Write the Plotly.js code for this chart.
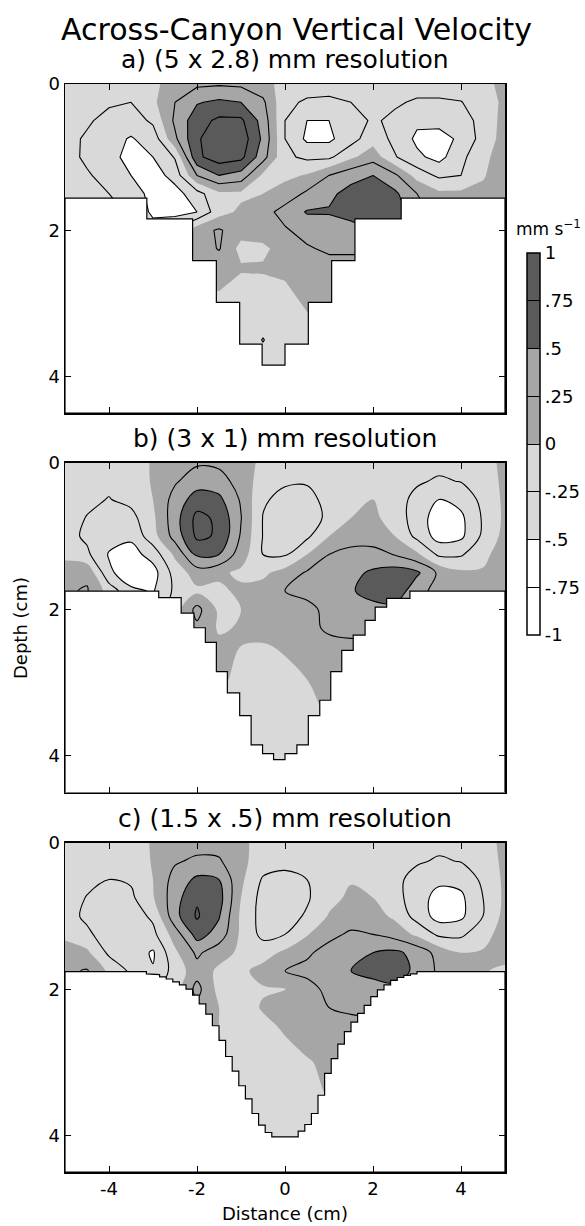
<!DOCTYPE html>
<html><head><meta charset="utf-8">
<script src="https://cdn.plot.ly/plotly-3.0.1.min.js"></script>
<style>body{margin:0;background:#fff}</style>
</head><body><div id="chart" style="width:585px;height:1226px"></div>
<script>
// ---------------- data ----------------
const xNodes = [-5,-4.5,-4,-3.5,-3,-2.5,-2,-1.5,-1,-0.5,0,0.5,1,1.5,2,2.5,3,3.5,4,4.5,5];
const depthNodes = [0,0.25,0.5,0.75,1,1.25,1.5,1.75,2,2.25,2.5,3,3.5,4,4.5];

// vertical velocity (mm/s), rows = depthNodes, cols = xNodes
const velA = [
 [-0.1,-0.1,-0.12,-0.15,-0.05,0.1,0.2,0.22,0.2,0.1,-0.1,-0.15,-0.15,-0.12,-0.1,-0.12,-0.15,-0.15,-0.12,-0.05,0.05],
 [-0.12,-0.15,-0.22,-0.25,-0.05,0.25,0.48,0.55,0.5,0.3,-0.2,-0.28,-0.3,-0.25,-0.18,-0.22,-0.28,-0.28,-0.26,-0.12,0.05],
 [-0.15,-0.22,-0.32,-0.38,-0.2,0.3,0.65,0.8,0.8,0.4,-0.25,-0.5,-0.5,-0.35,-0.22,-0.3,-0.45,-0.42,-0.38,-0.15,0.08],
 [-0.18,-0.28,-0.42,-0.52,-0.4,0.2,0.72,0.9,0.9,0.45,-0.25,-0.55,-0.55,-0.35,-0.1,-0.32,-0.55,-0.6,-0.45,-0.15,0.1],
 [-0.15,-0.3,-0.45,-0.55,-0.5,-0.23,0.7,0.88,0.82,0.35,-0.2,-0.3,-0.3,-0.05,0.15,-0.23,-0.45,-0.58,-0.32,-0.05,0.1],
 [-0.1,-0.22,-0.35,-0.5,-0.62,-0.4,0.25,0.5,0.4,-0.05,-0.05,0.02,0.25,0.42,0.5,0.3,-0.1,-0.3,-0.25,-0.02,0.12],
 [-0.05,-0.15,-0.25,-0.35,-0.6,-0.6,-0.35,-0.05,-0.05,0.0,0.1,0.3,0.45,0.58,0.65,0.55,0.25,0.05,0.05,0.05,0.12],
 [0.0,-0.05,-0.15,-0.3,-0.55,-0.6,-0.5,-0.1,0.05,0.15,0.35,0.52,0.52,0.6,0.65,0.6,0.4,0.1,0.05,0.05,0.1],
 [0.0,-0.05,-0.15,-0.3,-0.4,-0.2,0.15,0.28,0.1,0.12,0.22,0.35,0.38,0.4,0.5,0.5,0.4,0.1,0.05,0.05,0.1],
 [0.0,0.0,-0.1,-0.2,-0.2,0.0,0.1,0.27,-0.08,-0.05,0.1,0.22,0.3,0.3,0.3,0.3,0.3,0.1,0.05,0.05,0.1],
 [0,0,0,0,0,0.05,0.05,0.1,0.02,0.02,0.05,0.15,0.15,0.15,0.15,0.15,0.1,0.1,0.05,0.05,0.05],
 [0,0,0,0,-0.05,-0.05,-0.05,-0.05,-0.1,-0.08,-0.08,0.03,0.05,0.05,0.05,0.05,0.05,0,0,0,0],
 [-0.1,-0.1,-0.1,-0.1,-0.1,-0.1,-0.1,-0.1,-0.1,-0.26,-0.1,-0.1,-0.1,-0.1,-0.1,-0.1,-0.1,-0.1,-0.1,-0.1,-0.1],
 [-0.1,-0.1,-0.1,-0.1,-0.1,-0.1,-0.1,-0.1,-0.1,-0.1,-0.1,-0.1,-0.1,-0.1,-0.1,-0.1,-0.1,-0.1,-0.1,-0.1,-0.1],
 [-0.1,-0.1,-0.1,-0.1,-0.1,-0.1,-0.1,-0.1,-0.1,-0.1,-0.1,-0.1,-0.1,-0.1,-0.1,-0.1,-0.1,-0.1,-0.1,-0.1,-0.1]
];
const velB = [
 [-0.1,-0.12,-0.15,-0.1,0.02,0.15,0.22,0.2,0.1,-0.05,-0.12,-0.12,-0.1,-0.1,-0.1,-0.12,-0.15,-0.18,-0.15,-0.08,0.05],
 [-0.1,-0.15,-0.2,-0.12,0.02,0.22,0.38,0.35,0.15,-0.12,-0.22,-0.22,-0.12,-0.1,-0.1,-0.15,-0.22,-0.28,-0.24,-0.12,0.05],
 [-0.12,-0.2,-0.26,-0.18,0.0,0.35,0.62,0.56,0.22,-0.22,-0.32,-0.35,-0.15,-0.08,0.0,-0.15,-0.32,-0.5,-0.42,-0.18,0.05],
 [-0.15,-0.26,-0.33,-0.33,-0.05,0.4,0.82,0.7,0.26,-0.26,-0.38,-0.36,-0.2,0.0,0.05,-0.1,-0.38,-0.62,-0.55,-0.22,0.05],
 [-0.15,-0.3,-0.4,-0.45,-0.1,0.35,0.8,0.72,0.22,-0.26,-0.35,-0.3,0.0,0.15,0.18,0.0,-0.32,-0.6,-0.55,-0.2,0.08],
 [-0.05,-0.2,-0.52,-0.6,-0.4,0.05,0.55,0.5,0.12,-0.25,-0.28,0.0,0.25,0.32,0.3,0.24,0.05,-0.3,-0.28,-0.05,0.1],
 [0.1,0.2,-0.45,-0.65,-0.6,-0.15,0.12,0.05,-0.05,-0.05,0.1,0.28,0.36,0.42,0.55,0.62,0.55,0.2,0.05,0.02,0.1],
 [0.22,0.27,-0.1,-0.45,-0.52,-0.2,-0.05,-0.05,0.05,0.1,0.25,0.3,0.38,0.47,0.62,0.7,0.3,0.2,0.05,0.05,0.1],
 [0.2,0.2,-0.1,-0.4,-0.45,-0.1,0.33,-0.05,0.0,0.08,0.15,0.2,0.3,0.35,0.4,0.4,0.3,0.15,0.05,0.05,0.1],
 [0.1,0.1,-0.1,-0.3,-0.3,0.0,0.2,-0.03,0.02,0.1,0.12,0.2,0.28,0.32,0.3,0.3,0.25,0.1,0.05,0.05,0.1],
 [0,0,0,0,0,0.05,0.1,0.05,0.0,-0.02,0.03,0.12,0.2,0.2,0.2,0.2,0.1,0.05,0,0,0],
 [0,0,0,0,0,0.05,0.05,0.05,-0.08,-0.12,-0.08,-0.01,0.08,0.1,0.1,0.1,0.05,0,0,0,0],
 [-0.1,-0.1,-0.1,-0.1,-0.1,-0.1,-0.1,-0.1,-0.1,-0.15,-0.12,-0.06,0.0,0.0,0,0,0,0,0,0,0],
 [-0.15,-0.15,-0.15,-0.15,-0.15,-0.15,-0.15,-0.15,-0.15,-0.15,-0.15,-0.1,-0.05,-0.05,0,0,0,0,0,0,0],
 [-0.15,-0.15,-0.15,-0.15,-0.15,-0.15,-0.15,-0.15,-0.15,-0.15,-0.15,-0.1,-0.05,-0.05,0,0,0,0,0,0,0]
];
const velC = [
 [-0.1,-0.12,-0.15,-0.1,0.02,0.12,0.15,0.15,0.03,-0.05,-0.1,-0.12,-0.1,-0.1,-0.1,-0.12,-0.15,-0.18,-0.15,-0.08,0.05],
 [-0.1,-0.15,-0.2,-0.15,0.02,0.22,0.3,0.28,0.06,-0.12,-0.2,-0.15,-0.12,-0.1,-0.1,-0.15,-0.22,-0.28,-0.24,-0.12,0.05],
 [-0.12,-0.2,-0.25,-0.22,0.0,0.35,0.55,0.5,0.05,-0.28,-0.3,-0.25,-0.12,-0.02,-0.05,-0.18,-0.35,-0.45,-0.42,-0.2,0.05],
 [-0.15,-0.26,-0.32,-0.3,-0.02,0.4,0.72,0.6,0.0,-0.35,-0.35,-0.28,-0.08,0.05,0.0,-0.15,-0.4,-0.58,-0.55,-0.25,0.05],
 [-0.15,-0.3,-0.36,-0.38,-0.2,0.42,0.78,0.52,-0.05,-0.35,-0.35,-0.22,0.02,0.15,0.1,-0.05,-0.35,-0.6,-0.55,-0.25,0.08],
 [-0.05,-0.2,-0.38,-0.38,-0.32,0.12,0.6,0.4,-0.05,-0.32,-0.25,-0.02,0.2,0.28,0.25,0.15,-0.05,-0.3,-0.3,-0.08,0.1],
 [0.1,0.05,-0.3,-0.36,-0.53,-0.05,0.3,0.1,-0.05,-0.1,0.05,0.22,0.32,0.42,0.5,0.55,0.42,0.15,0.0,0.02,0.1],
 [0.2,0.27,-0.05,-0.3,-0.48,-0.15,0.15,-0.05,-0.05,0.08,0.25,0.3,0.38,0.5,0.58,0.6,0.45,0.2,0.05,0.02,-0.05],
 [0.2,0.2,0.0,-0.2,-0.3,-0.1,0.33,-0.08,-0.1,-0.02,-0.02,0.18,0.3,0.35,0.4,0.45,0.4,0.2,0.05,0.0,-0.05],
 [0.1,0.1,0,-0.1,-0.1,0.0,0.18,0.0,-0.1,0.02,0.12,0.18,0.25,0.28,0.3,0.3,0.3,0.2,0.05,0,0],
 [0,0,0,0,0,0.05,0.05,0.0,-0.1,-0.05,0.03,0.12,0.15,0.2,0.2,0.2,0.2,0.1,0,0,0],
 [0,0,0,0,0,0,0,0.02,-0.12,-0.12,-0.08,-0.02,0.05,0.08,0.1,0.1,0.05,0,0,0,0],
 [-0.1,-0.1,-0.1,-0.1,-0.1,-0.1,-0.1,-0.1,-0.1,-0.15,-0.15,-0.08,0.0,0.0,0,0,0,0,0,0,0],
 [-0.15,-0.15,-0.15,-0.15,-0.15,-0.15,-0.15,-0.15,-0.15,-0.15,-0.15,-0.1,-0.05,-0.05,0,0,0,0,0,0,0],
 [-0.15,-0.15,-0.15,-0.15,-0.15,-0.15,-0.15,-0.15,-0.15,-0.15,-0.15,-0.1,-0.05,-0.05,0,0,0,0,0,0,0]
];

// canyon bathymetry (column edges in cm, column bottom depths in cm, shelf depth)
const canyonEdgesA = [-3.14,-2.10,-1.56,-1.03,-0.52,0,0.53,1.06,1.59,2.64];
const canyonDepthsA = [1.845,2.416,2.986,3.557,3.845,3.557,2.986,2.416,1.845];
const shelfA = 1.56;
const canyonEdgesB = [-2.87,-2.36,-2.07,-1.81,-1.56,-1.31,-1.03,-0.77,-0.51,-0.26,0,0.27,0.53,0.79,1.04,1.29,1.55,1.82,2.05,2.31,2.84];
const canyonDepthsB = [1.84,2.05,2.25,2.45,2.85,3.14,3.45,3.85,3.97,4.05,3.97,3.85,3.45,3.24,2.85,2.56,2.35,2.15,1.97,1.85];
const shelfB = 1.75;
const canyonEdgesC = [-3.15,-3.0,-2.85,-2.7,-2.55,-2.4,-2.25,-2.1,-1.95,-1.8,-1.65,-1.5,-1.35,-1.2,-1.05,-0.9,-0.75,-0.6,-0.45,-0.3,-0.15,0,0.15,0.3,0.45,0.6,0.75,0.9,1.05,1.2,1.35,1.5,1.65,1.8,1.95,2.1,2.25,2.4,2.55,2.7,2.85,3.0];
const canyonDepthsC = [1.79,1.80,1.83,1.86,1.90,1.94,2.00,2.08,2.20,2.34,2.50,2.70,2.92,3.12,3.32,3.50,3.70,3.86,3.96,4.02,4.02,4.02,4.02,3.94,3.85,3.70,3.45,3.15,2.95,2.75,2.58,2.45,2.33,2.22,2.10,2.01,1.94,1.88,1.84,1.81,1.79];
const shelfC = 1.76;

const panelTitles = ['a) (5 x 2.8) mm resolution','b) (3 x 1) mm resolution','c) (1.5 x .5) mm resolution'];
const xTickVals = [-4,-2,0,2,4];
const xTickText = ['-4','-2','0','2','4'];
const yTickVals = [0,2,4];
const cbTickVals = [-1,-0.75,-0.5,-0.25,0,0.25,0.5,0.75,1];
const cbTickText = ['-1','-.75','-.5','-.25','0','.25','.5','.75','1'];

// ---------------- build ----------------
const FONT = 'DejaVu Sans';
const colorscale = [
  [0,'#ffffff'],[0.225,'#ffffff'],
  [0.225,'#d9d9d9'],[0.475,'#d9d9d9'],
  [0.475,'#a6a6a6'],[0.725,'#a6a6a6'],
  [0.725,'#5a5a5a'],[1,'#5a5a5a']
];
const XMIN=-5, XMAX=5, DMAX=4.5;

function maskPolygon(edges, depths, shelf){
  const xs=[XMIN], ys=[shelf];
  xs.push(edges[0]); ys.push(shelf);
  for(let i=0;i<depths.length;i++){
    xs.push(edges[i]); ys.push(depths[i]);
    xs.push(edges[i+1]); ys.push(depths[i]);
  }
  xs.push(edges[edges.length-1]); ys.push(shelf);
  xs.push(XMAX); ys.push(shelf);
  xs.push(XMAX); ys.push(DMAX);
  xs.push(XMIN); ys.push(DMAX);
  xs.push(XMIN); ys.push(shelf);
  return {xs, ys};
}

const panels = [
  {z:velA, edges:canyonEdgesA, depths:canyonDepthsA, shelf:shelfA, smooth:0},
  {z:velB, edges:canyonEdgesB, depths:canyonDepthsB, shelf:shelfB, smooth:1},
  {z:velC, edges:canyonEdgesC, depths:canyonDepthsC, shelf:shelfC, smooth:1}
];

const traces = [];
panels.forEach((p, i) => {
  const sfx = i===0 ? '' : String(i+1);
  const xa = 'x'+sfx, ya = 'y'+sfx;
  traces.push({
    type:'contour', x:xNodes, y:depthNodes, z:p.z, xaxis:xa, yaxis:ya,
    zauto:false, zmin:-1, zmax:1, colorscale, autocontour:false,
    contours:{start:-1, end:1, size:0.25, coloring:'fill', showlines:false},
    line:{width:0, smoothing:p.smooth},
    showscale: i===0, hoverinfo:'skip',
    colorbar:{
      x:1.05, xanchor:'left', thickness:13, thicknessmode:'pixels',
      len:0.351, lenmode:'fraction', y:0.669, yanchor:'middle',
      xpad:0, ypad:0, outlinewidth:1.5, outlinecolor:'black',
      tickmode:'array', tickvals:cbTickVals, ticktext:cbTickText,
      ticks:'inside', ticklen:13, tickcolor:'black', tickwidth:1,
      tickfont:{family:FONT, size:18, color:'black'}
    }
  });
  [[0.25,0.75],[-0.75,-0.25]].forEach(([s,e]) => {
    traces.push({
      type:'contour', x:xNodes, y:depthNodes, z:p.z, xaxis:xa, yaxis:ya,
      autocontour:false, contours:{start:s, end:e, size:0.25, coloring:'none', showlines:true},
      line:{color:'black', width:1.1, smoothing:p.smooth},
      showscale:false, hoverinfo:'skip'
    });
  });
  const m = maskPolygon(p.edges, p.depths, p.shelf);
  traces.push({
    type:'scatter', mode:'lines', x:m.xs, y:m.ys, xaxis:xa, yaxis:ya,
    fill:'toself', fillcolor:'#ffffff', line:{color:'black', width:1.2},
    hoverinfo:'skip', showlegend:false
  });
});

const axBase = {
  showline:true, linecolor:'black', linewidth:1.5, mirror:'ticks',
  ticks:'inside', ticklen:6, tickwidth:1, tickcolor:'black',
  showgrid:false, zeroline:false,
  tickfont:{family:FONT, size:18, color:'black'}
};
const doms = [[0.6976,1],[0.3488,0.6517],[0,0.3024]];
const layout = {
  width:585, height:1226, showlegend:false,
  paper_bgcolor:'#ffffff', plot_bgcolor:'#ffffff',
  margin:{l:65, r:80, t:84, b:54, autoexpand:false},
  font:{family:FONT, color:'black'},
  annotations:[]
};
for(let i=0;i<3;i++){
  const sfx = i===0 ? '' : String(i+1);
  layout['xaxis'+sfx] = Object.assign({}, axBase, {
    range:[XMIN,XMAX], anchor:'y'+sfx, tickmode:'array', tickvals:xTickVals, ticktext:xTickText,
    showticklabels: i===2, domain:[0,1], automargin:false
  });
  layout['yaxis'+sfx] = Object.assign({}, axBase, {
    range:[DMAX,0], anchor:'x'+sfx, tickmode:'array', tickvals:yTickVals, domain:doms[i], automargin:false
  });
  layout.annotations.push({
    text:panelTitles[i], xref:'paper', yref:'paper', x:0.5, y:doms[i][1],
    yshift:24.4, xanchor:'center', yanchor:'middle', showarrow:false,
    font:{family:FONT, size:25, color:'black'}
  });
}
layout.annotations.push(
  {text:'Across-Canyon Vertical Velocity', xref:'paper', yref:'paper', x:0.527, y:1, yshift:55,
   xanchor:'center', yanchor:'middle', showarrow:false, font:{family:FONT, size:30, color:'black'}},
  {text:'Depth (cm)', xref:'paper', yref:'paper', x:0, xshift:-45, y:0.5, textangle:-90,
   xanchor:'center', yanchor:'middle', showarrow:false, font:{family:FONT, size:18, color:'black'}},
  {text:'Distance (cm)', xref:'paper', yref:'paper', x:0.5, y:0, yshift:-41,
   xanchor:'center', yanchor:'middle', showarrow:false, font:{family:FONT, size:18, color:'black'}},
  {text:'mm s<sup>−1</sup>', xref:'paper', yref:'paper', x:1.098, y:0.8676,
   xanchor:'center', yanchor:'middle', showarrow:false, font:{family:FONT, size:17, color:'black'}}
);

Plotly.newPlot('chart', traces, layout, {displayModeBar:false, staticPlot:true});
</script>
</body></html>
